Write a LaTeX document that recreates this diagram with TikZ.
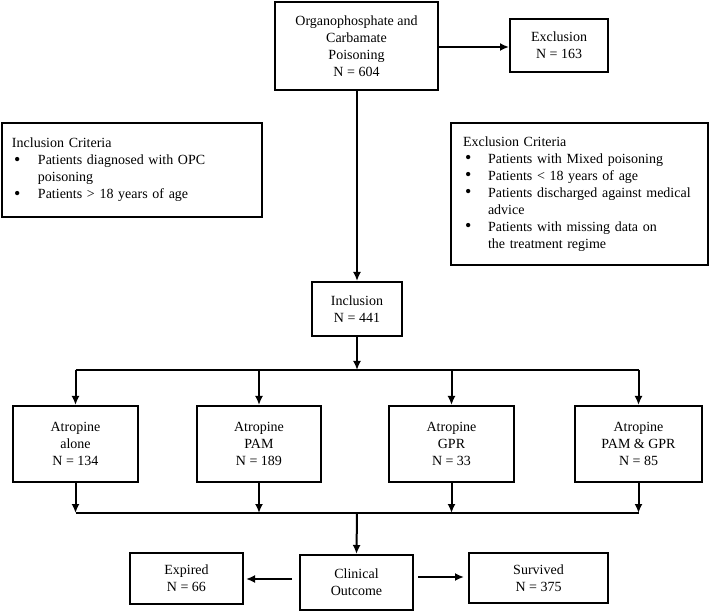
\documentclass[tikz,border=0pt]{standalone}
\usepackage{fontspec}
\setmainfont{Liberation Serif}
\usetikzlibrary{arrows.meta}

\newcommand{\critbullet}[1]{\makebox[#1][l]{\hspace{2pt}\smash{\raisebox{-0.5pt}{\fontsize{18}{17}\selectfont\textbullet}}}}

\begin{document}
\begin{tikzpicture}[
			x=1pt, y=-1pt,
			box/.style={draw=black, line width=2pt, fill=white, align=center,
			inner sep=2pt, font=\fontsize{14}{17}\selectfont},
			crit/.style={box, align=left, inner ysep=0pt},
			link/.style={draw=black, line width=2pt},
			flow/.style={>={Latex[length=9pt,width=8pt]}, link, ->}
			]
			\useasboundingbox (0,0) rectangle (710,612);
			% top part
			\node[box, minimum width=163pt, minimum height=88pt] (poison) at (356.5,46)
				{Organophosphate and\\Carbamate\\Poisoning\\N = 604};
			\node[box, minimum width=98pt, minimum height=53pt] (excl) at (559,45.5)
				{Exclusion\\N = 163};
			\node[crit, text width=240pt, inner xsep=10pt, minimum height=94pt] (inccrit) at (132,170)
				{Inclusion Criteria\\
				\critbullet{26pt}Patients diagnosed with OPC\\
				\hspace*{26pt}poisoning\\
				\critbullet{26pt}Patients > 18 years of age};
			\node[crit, text width=233pt, inner xsep=12pt, minimum height=142pt] (exccrit) at (579.5,194)
				{Exclusion Criteria\\
				\critbullet{25pt}Patients with Mixed poisoning\\
				\critbullet{25pt}Patients < 18 years of age\\
				\critbullet{25pt}Patients discharged against medical\\
				\hspace*{25pt}advice\\
				\critbullet{25pt}Patients with missing data on\\
				\hspace*{25pt}the treatment regime};
			\node[box, minimum width=90pt, minimum height=54pt] (incl) at (357,309)
				{Inclusion\\N = 441};
			% treatment groups
			\node[box, minimum width=125pt, minimum height=76pt] (alone) at (75.5,444)
				{Atropine\\alone\\N = 134};
			\node[box, minimum width=124pt, minimum height=76pt] (pam) at (259,444)
				{Atropine\\PAM\\N = 189};
			\node[box, minimum width=125pt, minimum height=76pt] (gpr) at (451.5,444)
				{Atropine\\GPR\\N = 33};
			\node[box, minimum width=127pt, minimum height=76pt] (pamgpr) at (638.5,444)
				{Atropine\\PAM \& GPR\\N = 85};
			% outcome
			\node[box, minimum width=113pt, minimum height=55pt] (outcome) at (356.5,582.5)
				{Clinical\\Outcome};
			\node[box, minimum width=113pt, minimum height=51pt] (expired) at (186.5,578.5)
				{Expired\\N = 66};
			\node[box, minimum width=139pt, minimum height=50pt] (survived) at (538.5,578)
				{Survived\\N = 375};
			\coordinate (split) at (357,370);
			\coordinate (join) at (357,513);

			\draw[flow] (poison.east |- 0,47) -- (excl.west |- 0,47);
			\draw[flow] (poison.south -| incl.north) -- (incl.north);
			\draw[flow] (incl.south) -- (split);
			\draw[link] (alone.north |- split) -- (pamgpr.north |- split);
			\foreach \b in {alone,pam,gpr,pamgpr}
				\draw[flow] (\b.north |- split) -- (\b.north);
			\foreach \b in {alone,pam,gpr,pamgpr}
				\draw[flow] (\b.south) -- (\b.south |- join);
			\draw[link] (alone.south |- join) -- (pamgpr.south |- join);
			\draw[flow] (join) -- (outcome.north);
			\draw[flow, shorten <=7pt, shorten >=2pt] (outcome.west |- 0,579) -- (expired.east |- 0,579);
			\draw[flow, shorten <=4pt, shorten >=4pt] (outcome.east |- 0,577) -- (survived.west |- 0,577);
		\end{tikzpicture}
\end{document}
